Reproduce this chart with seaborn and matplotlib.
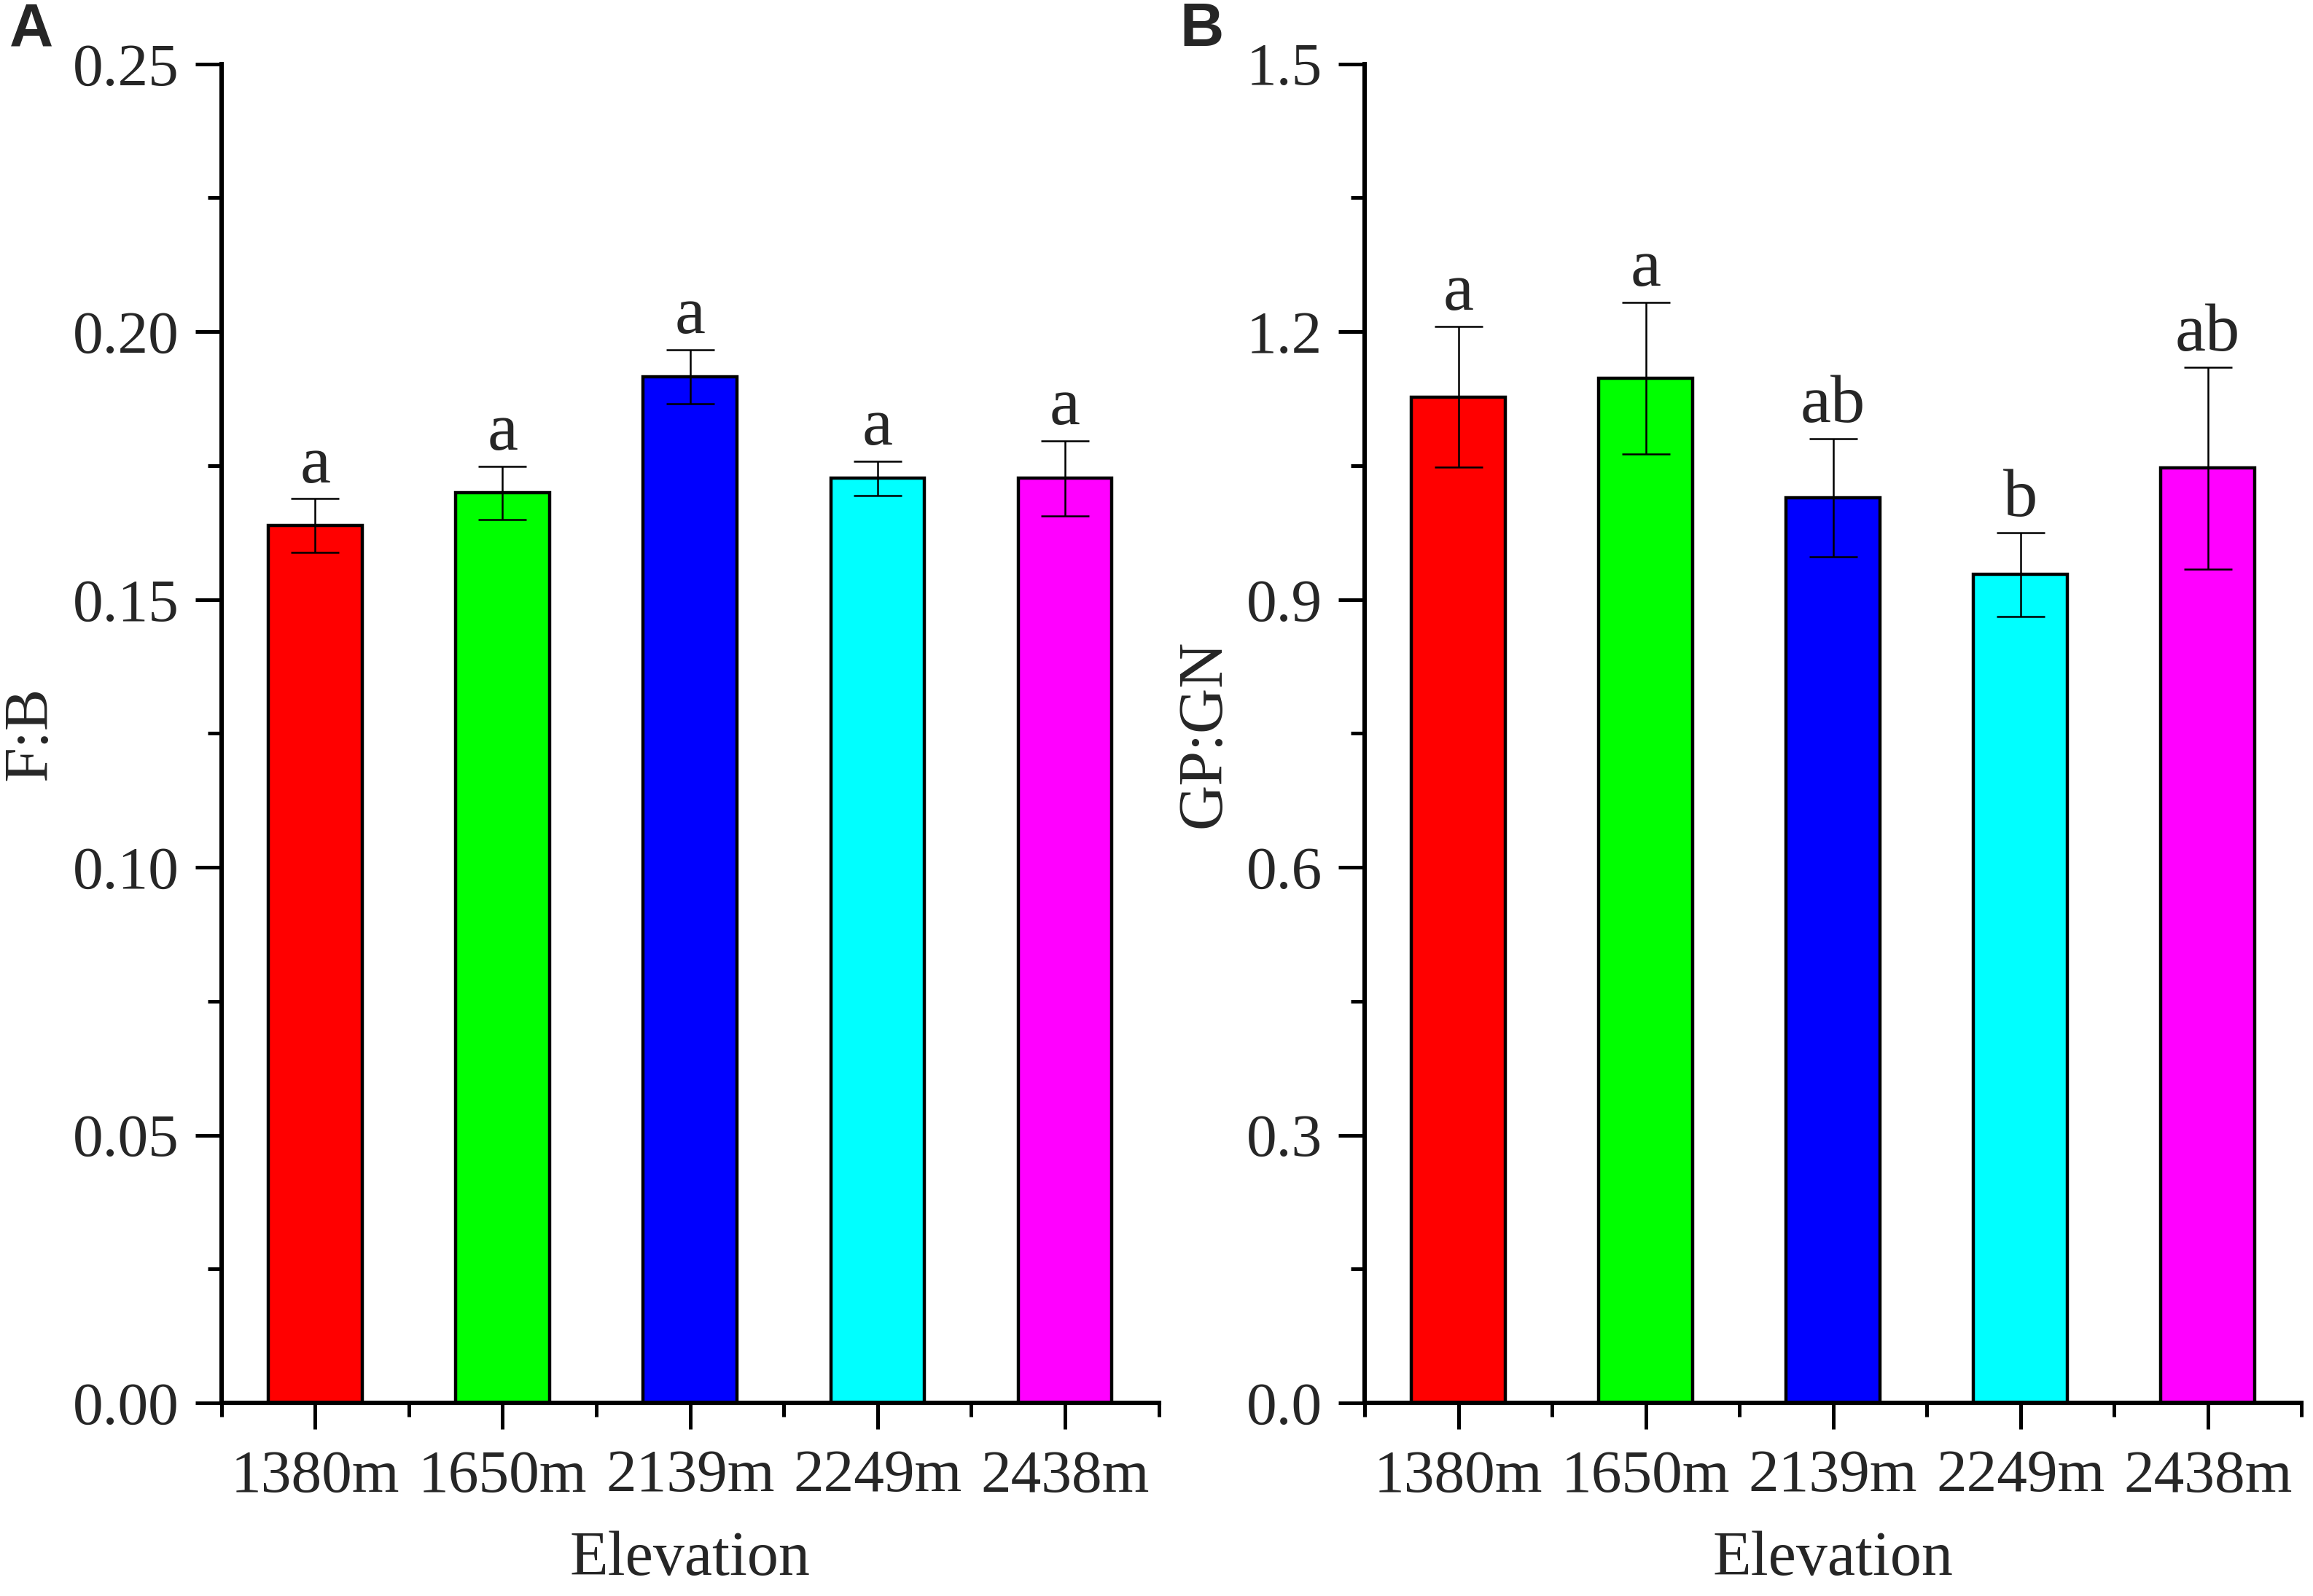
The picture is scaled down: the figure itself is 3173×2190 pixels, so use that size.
import pandas as pd
import seaborn as sns
import matplotlib.pyplot as plt
from matplotlib.ticker import MultipleLocator

sns.set_theme(style='white')
plt.rcParams['font.family'] = ['Liberation Serif', 'DejaVu Serif']

# 数据
elevation = ['1380m', '1650m', '2139m', '2249m', '2438m']
colors = ['#ff0000', '#00ff00', '#0000ff', '#00ffff', '#ff00ff']

fb_mean = [0.1638, 0.1699, 0.1916, 0.1726, 0.1726]
fb_err = [0.0050, 0.0050, 0.0050, 0.0032, 0.0070]
fb_letters = ['a', 'a', 'a', 'a', 'a']

gpgn_mean = [1.127, 1.148, 1.014, 0.928, 1.047]
gpgn_err = [0.079, 0.085, 0.066, 0.047, 0.113]
gpgn_letters = ['a', 'a', 'ab', 'b', 'ab']

fig = plt.figure(figsize=(15.865, 10.95), dpi=200)
ax1 = fig.add_axes([0.0957, 0.121, 0.4053, 0.839])
ax2 = fig.add_axes([0.5900, 0.121, 0.4050, 0.839])


def draw_panel(ax, means, errs, letters, ylabel, ymax, major, minor, fmt, ylpad):
    df = pd.DataFrame({'Elevation': elevation, 'value': means})
    sns.barplot(data=df, x='Elevation', y='value', hue='Elevation',
                palette=colors, width=0.5, errorbar=None, legend=False,
                edgecolor='black', linewidth=1.6, saturation=1, ax=ax)
    ax.errorbar(range(len(means)), means, yerr=errs, fmt='none',
                ecolor='black', elinewidth=0.9, capsize=12, capthick=0.9)
    for i, (m, e, t) in enumerate(zip(means, errs, letters)):
        ax.annotate(t, (i, m + e), xytext=(0, 1), textcoords='offset points',
                    ha='center', va='bottom', fontsize=34)

    ax.set_xlim(-0.5, 4.5)
    ax.set_ylim(0, ymax)
    ax.yaxis.set_major_locator(MultipleLocator(major))
    ax.yaxis.set_minor_locator(MultipleLocator(minor))
    ax.set_yticklabels([fmt.format(v) for v in ax.get_yticks()])
    ax.set_xticks(range(len(elevation)))
    ax.set_xticks([i + 0.5 for i in range(-1, len(elevation))], minor=True)

    for s in ['top', 'right']:
        ax.spines[s].set_visible(False)
    for s in ['left', 'bottom']:
        ax.spines[s].set_linewidth(2.2)
        ax.spines[s].set_color('black')

    ax.tick_params(axis='both', which='major', direction='out', length=13,
                   width=1.8, color='black', labelsize=30, left=True, bottom=True)
    ax.tick_params(axis='both', which='minor', direction='out', length=7,
                   width=1.8, color='black', left=True, bottom=True)
    ax.tick_params(axis='y', which='major', pad=8)
    ax.tick_params(axis='x', which='major', pad=10)

    ax.set_xlabel('Elevation', fontsize=31, labelpad=13)
    ax.set_ylabel(ylabel, fontsize=31, labelpad=ylpad)
    ax.grid(False)


draw_panel(ax1, fb_mean, fb_err, fb_letters, 'F:B', 0.25, 0.05, 0.025, '{:.2f}', 6)
draw_panel(ax2, gpgn_mean, gpgn_err, gpgn_letters, 'GP:GN', 1.5, 0.3, 0.15, '{:.1f}', 6)

fig.text(0.004, 0.999, 'A', fontsize=30, fontweight='bold',
         family='Liberation Sans', ha='left', va='top')
fig.text(0.510, 0.999, 'B', fontsize=30, fontweight='bold',
         family='Liberation Sans', ha='left', va='top')

fig.savefig('out.png', dpi=200, facecolor='white')
